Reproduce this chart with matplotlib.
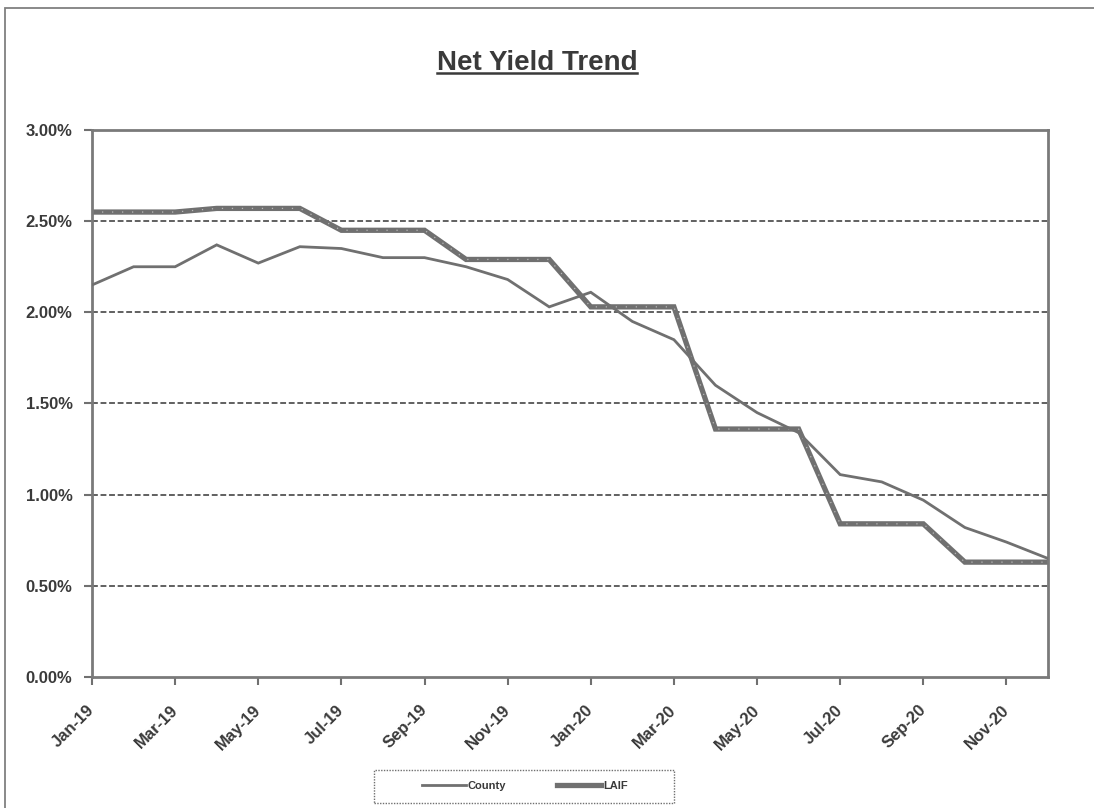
import matplotlib
matplotlib.use("Agg")
import matplotlib.pyplot as plt
from matplotlib.lines import Line2D
from matplotlib.patches import Rectangle
from matplotlib.ticker import FuncFormatter

months = ["Jan-19", "Feb-19", "Mar-19", "Apr-19", "May-19", "Jun-19",
          "Jul-19", "Aug-19", "Sep-19", "Oct-19", "Nov-19", "Dec-19",
          "Jan-20", "Feb-20", "Mar-20", "Apr-20", "May-20", "Jun-20",
          "Jul-20", "Aug-20", "Sep-20", "Oct-20", "Nov-20", "Dec-20"]
county = [2.15, 2.25, 2.25, 2.37, 2.27, 2.36, 2.35, 2.30, 2.30, 2.25, 2.18, 2.03,
          2.11, 1.95, 1.85, 1.60, 1.45, 1.34, 1.11, 1.07, 0.97, 0.82, 0.74, 0.65]
laif = [2.55, 2.55, 2.55, 2.57, 2.57, 2.57, 2.45, 2.45, 2.45, 2.29, 2.29, 2.29,
        2.03, 2.03, 2.03, 1.36, 1.36, 1.36, 0.84, 0.84, 0.84, 0.63, 0.63, 0.63]
yticks = [0, 0.5, 1.0, 1.5, 2.0, 2.5, 3.0]

GRAY = "#707070"
TEXT = "#3a3a3a"

def main():
  plt.rcParams['font.family'] = ['Liberation Sans', 'DejaVu Sans']
  fig = plt.figure(figsize=(10.94, 8.08), dpi=100)
  ax = fig.add_axes([92/1094, 1-677/808, (1048-92)/1094, (677-130)/808])

  x = list(range(len(months)))
  # gridlines (top one is the frame)
  for v in yticks[1:-1]:
    ax.axhline(v, color="#606060", lw=1.4, ls=(0, (3, 1.4)), zorder=1)

  ax.plot(x, county, color=GRAY, lw=2.0, solid_joinstyle="miter", zorder=3, label="County")
  ax.plot(x, laif, color=GRAY, lw=3.8, solid_joinstyle="miter", zorder=2, label="LAIF")
  # speckled look of the scanned LAIF line
  ax.plot(x, laif, color="white", lw=0.9, ls=(0, (1, 7)), alpha=0.5, zorder=2.5)

  ax.set_xlim(0, len(months) - 1)
  ax.set_ylim(0, 3.0)
  ax.set_yticks(yticks)
  ax.yaxis.set_major_formatter(FuncFormatter(lambda v, p: f"{v:.2f}%"))
  ax.set_xticks(x[::2])
  ax.set_xticklabels(months[::2])
  for lab in ax.get_yticklabels() + ax.get_xticklabels():
    lab.set_fontsize(12)
    lab.set_fontweight("bold")
    lab.set_color(TEXT)
  plt.setp(ax.get_xticklabels(), rotation=45, ha="right", va="center", rotation_mode="anchor")
  ax.tick_params(axis="y", length=6, width=1.5, color=GRAY, pad=8)
  ax.tick_params(axis="x", length=6, width=1.5, color=GRAY, pad=16)
  for s in ax.spines.values():
    s.set_color("#7a7a7a")
    s.set_linewidth(2.0)

  # title with underline
  t = fig.text(537/1094, 1-70/808, "Net Yield Trend", ha="center", va="baseline",
               fontsize=20, fontweight="bold", color=TEXT)
  fig.canvas.draw()
  bb = t.get_window_extent().transformed(fig.transFigure.inverted())
  fig.add_artist(Line2D([bb.x0, bb.x1], [1-73/808, 1-73/808], color=TEXT, lw=1.8))

  # outer chart frame (cut off at right and bottom)
  fig.add_artist(Rectangle((5/1094, -0.05), 1.2, 1.05 - 8/808, fill=False,
                           edgecolor="#808080", lw=1.3))

  # legend
  fig.add_artist(Rectangle((374/1094, 1-803/808), 300/1094, 33/808, fill=False,
                           edgecolor="#707070", lw=1.0, ls=(0, (1, 1))))
  fig.legend(loc="center", bbox_to_anchor=(525/1094, 1-786/808), ncol=2, frameon=False,
             prop={"size": 8, "weight": "bold"}, labelcolor=TEXT, handlelength=3.9,
             handletextpad=0.2, columnspacing=4.6)

  fig.savefig("out.png", dpi=100)

if __name__ == "__main__":
  main()
